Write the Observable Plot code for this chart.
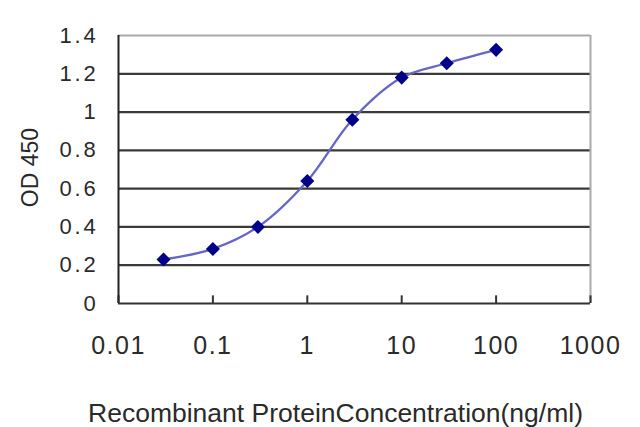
<!DOCTYPE html>
<html>
<head>
<meta charset="utf-8">
<script src="https://cdn.jsdelivr.net/npm/d3@7"></script>
<script src="https://cdn.jsdelivr.net/npm/@observablehq/plot@0.6"></script>
<style>
  html, body { margin: 0; padding: 0; background: #fff; }
  svg { font-family: "Liberation Sans", Arial, sans-serif; }
  g[aria-label="x-axis tick label"] text { letter-spacing: 1.5px; }
  g[aria-label="y-axis tick label"] text { letter-spacing: 2.8px; }
</style>
</head>
<body>
<div id="chart"></div>
<script>
const concentration = [0.03, 0.1, 0.3, 1, 3, 10, 30, 100];
const od450 = [0.23, 0.285, 0.40, 0.64, 0.96, 1.18, 1.255, 1.325];
const xTicks = [0.01, 0.1, 1, 10, 100, 1000];
const yTicks = [0, 0.2, 0.4, 0.6, 0.8, 1, 1.2, 1.4];
const gridValues = [0.2, 0.4, 0.6, 0.8, 1, 1.2];
const xLabel = "Recombinant ProteinConcentration(ng/ml)";
const yLabel = "OD 450";

const data = concentration.map((c, i) => ({c, od: od450[i]}));

const chart = Plot.plot({
  width: 640,
  height: 427,
  marginLeft: 118,
  marginRight: 50,
  marginTop: 35,
  marginBottom: 124,
  x: {type: "log", domain: [0.01, 1000]},
  y: {domain: [0, 1.4]},
  marks: [
    Plot.ruleY(gridValues, {stroke: "#3a3a3a", strokeWidth: 2.2}),
    Plot.ruleY([1.4], {stroke: "#aaa", strokeWidth: 2}),
    Plot.ruleX([1000], {stroke: "#aaa", strokeWidth: 2}),
    Plot.ruleX(xTicks, {y1: 0, y2: 0.04, stroke: "#333", strokeWidth: 2}),
    Plot.ruleX([0.01], {stroke: "#222", strokeWidth: 2}),
    Plot.ruleY([0], {stroke: "#333", strokeWidth: 2}),
    Plot.axisX({ticks: xTicks, tickFormat: d => String(d), tickSize: 0, tickPadding: 33, fontSize: 25, fill: "#2a2a2a", label: null}),
    Plot.axisY({ticks: yTicks, tickFormat: d => String(d), tickSize: 0, tickPadding: 20, fontSize: 22, fill: "#2a2a2a", label: null}),
    Plot.line(data, {x: "c", y: "od", curve: "catmull-rom", stroke: "#6565c8", strokeWidth: 2.3}),
    Plot.dot(data, {x: "c", y: "od", symbol: "square", rotate: 45, r: 5.6, fill: "#00008b", stroke: "none"}),
    Plot.text([xLabel], {frameAnchor: "bottom", dx: -19, dy: 118, lineAnchor: "bottom", fontSize: 26.5, fill: "#2a2a2a"}),
    Plot.text([yLabel], {frameAnchor: "left", textAnchor: "middle", dx: -88, dy: -2, rotate: -90, fontSize: 23, fill: "#2a2a2a"})
  ]
});
document.getElementById("chart").appendChild(chart);
</script>
</body>
</html>
